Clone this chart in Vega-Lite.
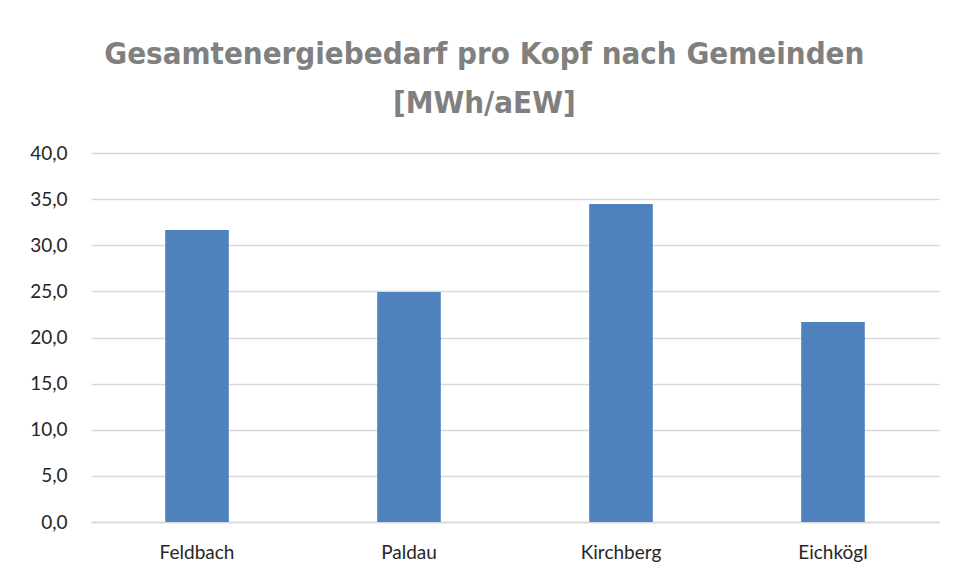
{
  "$schema": "https://vega.github.io/schema/vega-lite/v6.json",
  "width": 848,
  "height": 369,
  "autosize": {"type": "none"},
  "padding": {"left": 91, "top": 153, "right": 17, "bottom": 58},
  "background": "white",
  "config": {
    "locale": {"number": {"decimal": ",", "thousands": ".", "grouping": [3], "currency": ["", " €"]}},
    "view": {"stroke": null},
    "font": "Lato"
  },
  "title": {
    "text": ["Gesamtenergiebedarf pro Kopf nach Gemeinden", "[MWh/aEW]"],
    "font": "DejaVu Sans Condensed",
    "fontSize": 31,
    "fontWeight": "bold",
    "color": "#808080",
    "anchor": "middle",
    "frame": "bounds",
    "lineHeight": 49,
    "offset": 24
  },
  "data": {
    "values": [
      {"Gemeinde": "Feldbach", "Wert": 31.65},
      {"Gemeinde": "Paldau", "Wert": 24.93},
      {"Gemeinde": "Kirchberg", "Wert": 34.47},
      {"Gemeinde": "Eichkögl", "Wert": 21.68}
    ]
  },
  "mark": {"type": "bar", "color": "#4f81bd"},
  "encoding": {
    "x": {
      "field": "Gemeinde",
      "type": "nominal",
      "sort": null,
      "scale": {"paddingInner": 0.7, "paddingOuter": 0.35},
      "axis": {
        "title": null,
        "labelAngle": 0,
        "labelFontSize": 19,
        "labelColor": "#262626",
        "labelPadding": 21,
        "ticks": false,
        "domainColor": "#d9d9d9",
        "domainWidth": 1.5
      }
    },
    "y": {
      "field": "Wert",
      "type": "quantitative",
      "scale": {"domain": [0, 40]},
      "axis": {
        "title": null,
        "values": [0, 5, 10, 15, 20, 25, 30, 35, 40],
        "format": ".1f",
        "labelFontSize": 19,
        "labelColor": "#262626",
        "labelPadding": 24,
        "ticks": false,
        "domain": false,
        "gridColor": "#d9d9d9",
        "gridWidth": 1.5
      }
    }
  }
}
